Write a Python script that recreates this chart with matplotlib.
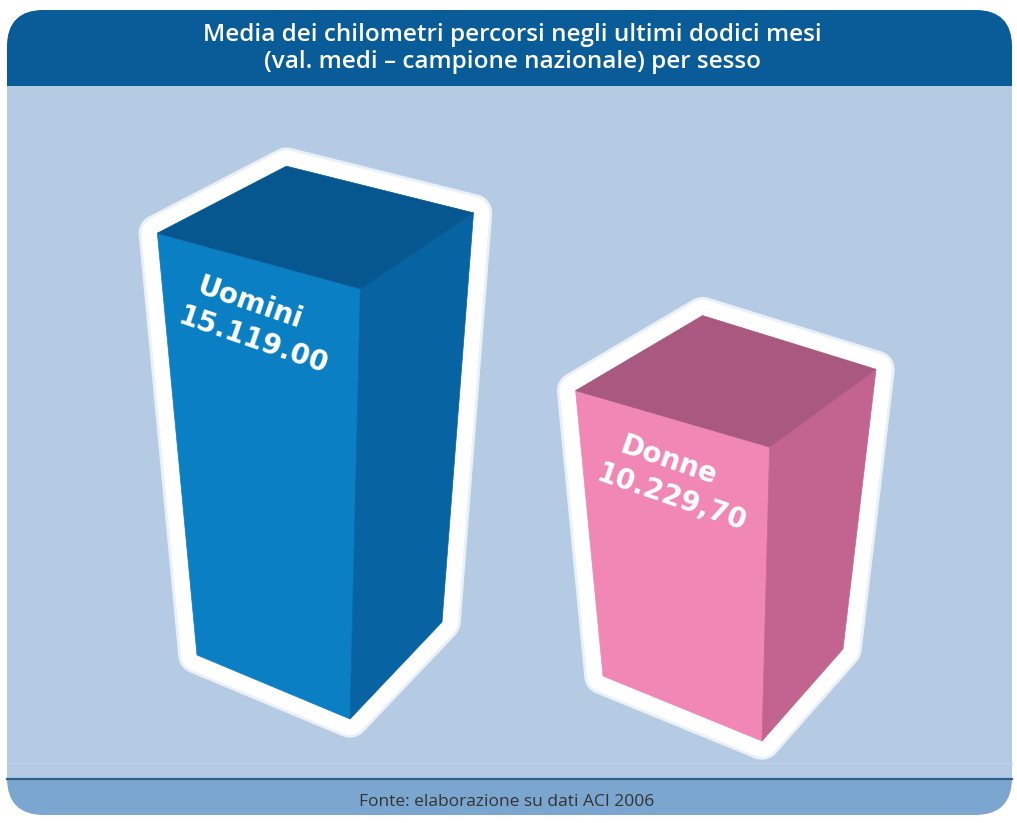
import matplotlib
matplotlib.use("Agg")
import matplotlib.pyplot as plt
from matplotlib.patches import Polygon, FancyBboxPatch, Rectangle

# ---------------- data ----------------
title_lines = ["Media dei chilometri percorsi negli ultimi dodici mesi",
               "(val. medi – campione nazionale) per sesso"]
categories = ["Uomini", "Donne"]
values = [15119.00, 10229.70]
value_labels = ["15.119.00", "10.229,70"]
source = "Fonte: elaborazione su dati ACI 2006"

# ---------------- styles ----------------
W, H = 1017, 823
px_per_km = 0.0279  # vertical scale of the bars (pixels per km)
face_colors = [("#0b7fc4", "#0863a3", "#065690"),   # front, right, top
               ("#f087b5", "#c2648f", "#a9587f")]
# bottom corners: front-left, front-right, back-right (pixel coords)
bases = [((197, 655), (350, 719), (442, 622)),
         ((603, 676), (762, 741), (843, 649))]
# lean (dx per unit height) and height factor for each vertical edge
edge_style = [((-0.094, 1.00), (0.024, 1.02), (0.077, 0.97)),
              ((-0.096, 1.00), (0.026, 1.03), (0.118, 0.98))]
depth_left = [(129, -67), (127, -75)]

sans = ["Open Sans", "DejaVu Sans"]

fig = plt.figure(figsize=(W / 100, H / 100), dpi=100)
ax = fig.add_axes([0, 0, 1, 1])
ax.set_xlim(0, W)
ax.set_ylim(H, 0)
ax.axis("off")

# panel
panel = FancyBboxPatch((7 + 37, 10 + 37), 1005 - 74, 805 - 74,
                       boxstyle="round,pad=37,rounding_size=37",
                       facecolor="#7ba6cf", edgecolor="none", zorder=0)
ax.add_patch(panel)
hdr = Rectangle((0, 0), W, 86, facecolor="#0a5c99", edgecolor="none", zorder=1)
ax.add_patch(hdr)
hdr.set_clip_path(panel)
body = Rectangle((7, 86), 1005, 692, facecolor="#b4cbe3", edgecolor="none", zorder=1)
ax.add_patch(body)
ax.plot([7, 1012], [763, 763], color="#c2d4e8", lw=1.0, zorder=1.5)
ax.plot([7, 1012], [779, 779], color="#2d6192", lw=1.6, zorder=1.5)

ax.text(512, 35, title_lines[0], ha="center", va="center", color="white",
        fontsize=17.5, fontweight="semibold", family=sans, zorder=3)
ax.text(512, 62, title_lines[1], ha="center", va="center", color="white",
        fontsize=17.5, fontweight="semibold", family=sans, zorder=3)
ax.text(507, 802, source, ha="center", va="center", color="#333333",
        fontsize=12.5, family=sans, zorder=3)

# bars
for i, v in enumerate(values):
    h = v * px_per_km
    tops = []
    for (bx, by), (lean, fac) in zip(bases[i], edge_style[i]):
        hh = h * fac
        tops.append((bx + lean * hh, by - hh))
    tfl, tfr, tbr = tops
    bfl, bfr, bbr = bases[i]
    tbl = (tfl[0] + depth_left[i][0], tfl[1] + depth_left[i][1])
    front_c, right_c, top_c = face_colors[i]
    outline = [tfl, tbl, tbr, bbr, bfr, bfl]
    ax.add_patch(Polygon(outline, closed=True, facecolor="white", edgecolor="#e9f0f8",
                         lw=27, joinstyle="round", zorder=2))
    ax.add_patch(Polygon(outline, closed=True, facecolor="white", edgecolor="white",
                         lw=23, joinstyle="round", zorder=2.1))
    ax.add_patch(Polygon([tfl, tfr, bfr, bfl], closed=True, facecolor=front_c,
                         edgecolor=front_c, lw=0.5, zorder=3))
    ax.add_patch(Polygon([tfr, tbr, bbr, bfr], closed=True, facecolor=right_c,
                         edgecolor=right_c, lw=0.5, zorder=3))
    ax.add_patch(Polygon([tfl, tbl, tbr, tfr], closed=True, facecolor=top_c,
                         edgecolor=top_c, lw=0.5, zorder=3))
    ax.text(tfl[0] + 93, tfl[1] + 70, categories[i], ha="center", va="center",
            color="white", fontsize=20, fontweight="bold", rotation=-19,
            rotation_mode="anchor", zorder=4)
    ax.text(tfl[0] + 96, tfl[1] + 108, value_labels[i], ha="center", va="center",
            color="white", fontsize=20, fontweight="bold", rotation=-19,
            rotation_mode="anchor", zorder=4)

fig.savefig("out.png", dpi=100, facecolor="white")
